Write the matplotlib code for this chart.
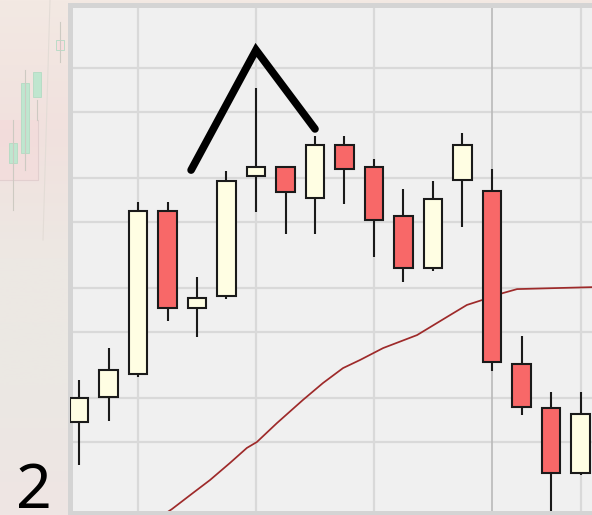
import numpy as np
import matplotlib
matplotlib.use("Agg")
import matplotlib.pyplot as plt
from matplotlib.colors import LinearSegmentedColormap

# ---------------- data ----------------
opens  = [100.91, 102.05, 103.09, 110.50, 106.09, 106.64, 112.09, 112.50, 111.09,
          113.50, 112.50, 110.27, 107.91, 111.91, 111.41, 103.55, 101.55, 98.59]
highs  = [102.82, 104.27, 110.91, 110.91, 107.50, 112.32, 116.09, 112.50, 113.91,
          113.91, 112.86, 111.50, 111.86, 114.05, 112.41, 104.82, 102.27, 102.27]
lows   = [98.95, 100.95, 102.95, 105.50, 104.77, 106.50, 110.45, 109.45, 109.45,
          110.82, 108.41, 107.27, 107.77, 109.77, 103.23, 101.23, 96.50, 98.50]
closes = [102.00, 103.27, 110.50, 106.09, 106.55, 111.86, 112.50, 111.36, 113.50,
          112.41, 110.09, 107.91, 111.05, 113.50, 103.64, 101.59, 98.59, 101.27]

ma_x = [2.75, 3.15, 3.86, 4.44, 5.12, 5.69, 6.03, 6.71, 7.59, 8.27, 8.95, 9.53,
        10.31, 11.46, 12.58, 13.15, 13.66, 14.37, 14.85, 17.70]
ma_y = [96.59, 96.95, 97.68, 98.27, 99.05, 99.73, 100.00, 100.86, 101.91, 102.68,
        103.36, 103.73, 104.27, 104.86, 105.77, 106.23, 106.45, 106.77, 106.95, 107.05]

peak_x = [3.80, 6.00, 8.00]
peak_y = [112.36, 117.82, 114.23]

h_grid = [100, 102, 105, 107, 110, 112, 115, 117]
v_grid = [2, 6, 10, 14, 17]
label = "2"

# ghost chart in background (faded, left margin), in its own 0..592 / 0..515 px space
ghost_x = [13, 25, 37, 60]
ghost_body = [(143, 163), (83, 153), (72, 97), (40, 50)]
ghost_wick = [(120, 210), (70, 170), (100, 120), (22, 62)]
ghost_col = ["#bfe6cf", "#bfe6cf", "#bfe6cf", "#f6dede"]

# ---------------- figure ----------------
W, H = 592, 515
fig = plt.figure(figsize=(W / 100, H / 100), dpi=100)

bg = fig.add_axes([0, 0, 1, 1])
cmap = LinearSegmentedColormap.from_list(
    "bg", ["#f3e9e3", "#f1e1de", "#ede8e3", "#ebe8e4", "#efe5e3"])
grad = np.linspace(0, 1, 256).reshape(-1, 1)
bg.imshow(grad, aspect="auto", cmap=cmap, extent=[0, W, H, 0])
bg.fill_between([0, 38], [120, 120], [180, 180], color="#f5dada", alpha=0.6, lw=0)
bg.plot([0, 38, 38], [180, 180, 120], color="#e2cfcf", lw=0.8)
bg.plot([50, 43], [0, 240], color="#e3dcd6", lw=0.8)
for gx, (b0, b1), (w0, w1), gc in zip(ghost_x, ghost_body, ghost_wick, ghost_col):
    bg.plot([gx, gx], [w0, w1], color="#cdcac2", lw=0.8)
    bg.bar(gx, b1 - b0, bottom=b0, width=8, color=gc, edgecolor="#b3dbc3", lw=0.6)
bg.set_xlim(0, W)
bg.set_ylim(H, 0)
bg.axis("off")

# main panel: pixel placement
left_px, right_px, top_px, bot_px = 70, 600, 5, 512.5
ax = fig.add_axes([left_px / W, (H - bot_px) / H, (right_px - left_px) / W, (bot_px - top_px) / H])
ax.set_facecolor("#f0f0f0")

x0_px, step_px = 79, 29.5
ax.set_xlim((left_px - x0_px) / step_px, (right_px - x0_px) / step_px)
ax.set_ylim(100 - (bot_px - 442) / 22, 100 + (442 - top_px) / 22)

for v in h_grid:
    ax.axhline(v, color="#d9d9d9", lw=1.6, zorder=0)
for v in v_grid:
    if v == 14:
        ax.axvline(v, color="#b9b9b9", lw=1.2, zorder=0)
    else:
        ax.axvline(v, color="#d9d9d9", lw=1.6, zorder=0)

ax.plot(ma_x, ma_y, color="#9e2a2a", lw=1.25, zorder=1, solid_capstyle="butt")

idx = np.arange(len(opens))
o = np.array(opens); c = np.array(closes)
ax.vlines(idx, lows, highs, color="#1a1a1a", lw=1.5, zorder=2)
up = c >= o
colors = np.where(up, "#fffee3", "#f86868")
ax.bar(idx, np.abs(c - o), bottom=np.minimum(o, c), width=0.64,
       color=colors, edgecolor="#1a1a1a", linewidth=1.5, zorder=3)

ax.plot(peak_x, peak_y, color="black", lw=5.5, solid_capstyle="round",
        solid_joinstyle="miter", zorder=4)

ax.set_xticks([]); ax.set_yticks([])
for s in ["left", "top", "bottom"]:
    ax.spines[s].set_color("#d4d4d4")
    ax.spines[s].set_linewidth(3.6)
ax.spines["right"].set_visible(False)

fig.text(16 / W, (H - 508) / H, label, fontsize=45, family=["Noto Sans", "DejaVu Sans"],
         color="black", ha="left", va="baseline")

fig.savefig("out.png", dpi=100)
